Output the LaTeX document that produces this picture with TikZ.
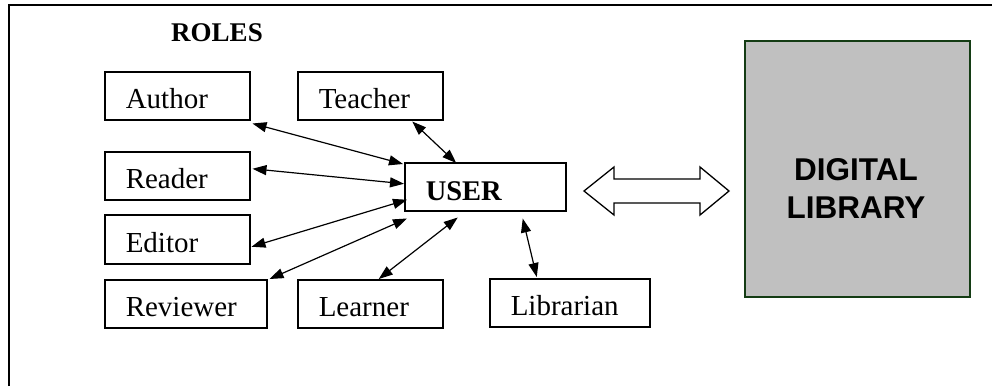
\documentclass[tikz,border=0pt]{standalone}
\usepackage{fontspec}
\setmainfont{Liberation Serif}
\newfontfamily\arialfont{Liberation Sans}
\usetikzlibrary{arrows.meta,calc}
\definecolor{dlgray}{RGB}{192,192,192}
\definecolor{dlborder}{RGB}{20,60,20}
\begin{document}
\begin{tikzpicture}[x=1pt,y=-1pt,
  rolebox/.style={draw, line width=1.5pt, anchor=north west, minimum height=48pt,
    text height=26pt, text depth=0pt, inner xsep=21pt, inner ysep=0pt, align=left,
    font=\fontsize{29}{34}\selectfont},
  link/.style={line width=1.2pt, {Triangle[length=14pt,width=10pt]}-{Triangle[length=14pt,width=10pt]}},
  frame/.style={line width=1.6pt},
]
\useasboundingbox (0,0) rectangle (992,386);
% outer frame (cut at right and bottom)
\coordinate (fbl) at (8.7,386);
\coordinate (ftl) at (8.7,5.2);
\coordinate (ftr) at (992,5.2);
\draw[frame] (fbl) -- (ftl) -- (ftr);

\node[font=\bfseries\fontsize{27}{32}\selectfont] (roles) at (217,33) {ROLES};

\node[rolebox, text width=103pt] (author) at (104,71) {Author};
\node[rolebox, text width=103pt] (teacher) at (297,71) {Teacher};
\node[rolebox, text width=103pt] (reader) at (104,151) {Reader};
\node[rolebox, text width=103pt, minimum height=49pt] (editor) at (104,214) {Editor};
\node[rolebox, text width=120pt] (reviewer) at (104,279) {Reviewer};
\node[rolebox, text width=103pt] (learner) at (297,279) {Learner};
\node[rolebox, text width=118pt] (librarian) at (489,278) {Librarian};
\node[rolebox, text width=119pt, font=\bfseries\fontsize{28.5}{34}\selectfont, text height=27pt] (user) at (404,162) {USER};

\draw[link] ($(author.south east)+(2,3)$) -- ($(user.north west)+(-1,2)$);
\draw[link] ($(teacher.south)+(42,1)$) -- ($(user.north)+(-29,1)$);
\draw[link] ($(reader.east)+(2,-7)$) -- ($(user.west)+(0,-3)$);
\draw[link] ($(editor.east)+(1,7.5)$) -- ($(user.west)+(3,13)$);
\draw[link] ($(reviewer.north east)+(2,0)$) -- ($(user.south west)+(3,7)$);
\draw[link] ($(learner.north)+(8.5,0)$) -- ($(user.south)+(-27.5,6)$);
\draw[link] ($(user.south)+(37.5,7)$) -- ($(librarian.north)+(-33,-1)$);

% hollow double arrow between USER and the library
\draw[line width=1.3pt] (584,191) -- (614,167) -- (614,179) -- (700,179) -- (700,167)
  -- (729,191) -- (700,215) -- (700,203) -- (614,203) -- (614,215) -- cycle;

\node[draw=dlborder, fill=dlgray, line width=1.6pt, anchor=north west,
  minimum width=225pt, minimum height=256pt, inner sep=0pt] (dl) at (744,40) {};
\node[font=\arialfont\bfseries\fontsize{31.5}{38}\selectfont, align=center] (dltext) at (856,188) {DIGITAL\\LIBRARY};
\end{tikzpicture}
\end{document}
